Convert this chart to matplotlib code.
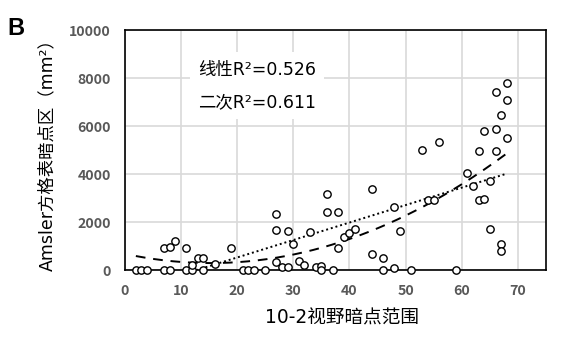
import numpy as np
import matplotlib
matplotlib.use("Agg")
import matplotlib.pyplot as plt

plt.rcParams['font.family'] = ['DejaVu Sans', 'Noto Sans CJK SC']

# Scatter data: 10-2 visual field scotoma extent vs Amsler grid scotoma area (mm²)
field_extent = [2, 3, 4, 7, 8, 7, 8, 9, 11, 11, 12, 12, 13, 14, 14, 16, 19,
                21, 22, 23, 25, 27, 27, 27, 28, 29, 29, 30, 31, 32, 33, 34, 35,
                35, 36, 36, 38, 37, 38, 39, 40, 41, 44, 44, 46, 46, 48, 48, 49,
                51, 53, 56, 54, 55, 59, 61, 62, 63, 64, 63, 64, 65, 65, 66, 66,
                66, 67, 67, 67, 68, 68, 68]
amsler_area = [0, 0, 0, 0, 0, 900, 970, 1220, 900, 0, 0, 200, 490, 490, 0, 250, 940,
               0, 0, 0, 0, 2320, 1690, 320, 110, 110, 1620, 1080, 390, 220, 1570, 110, 180,
               0, 3190, 2400, 2400, 0, 900, 1360, 1530, 1710, 3380, 690, 510, 0, 2610, 70, 1640,
               0, 5000, 5350, 2940, 2920, 0, 4030, 3500, 2940, 2970, 4960, 5810, 1710, 3720, 5860, 4960,
               7420, 6460, 1080, 810, 7810, 7080, 5490]

x_ticks = [0, 10, 20, 30, 40, 50, 60, 70]
y_ticks = [0, 2000, 4000, 6000, 8000, 10000]
r2_linear = "0.526"
r2_quad = "0.611"

x = np.array(field_extent, dtype=float)
y = np.array(amsler_area, dtype=float)

fig = plt.figure(figsize=(5.81, 3.38), dpi=100)
ax = fig.add_axes([0.2145, 0.201, 0.7255, 0.710])

ax.set_xlim(0, 75)
ax.set_ylim(0, 10000)
ax.set_xticks(x_ticks)
ax.set_yticks(y_ticks)
ax.grid(True, color='#d9d9d9', linewidth=1.2)
ax.set_axisbelow(True)

xs = np.linspace(x.min(), x.max(), 200)
lin = np.polyfit(x, y, 1)
quad = np.polyfit(x, y, 2)
ax.plot(xs, np.polyval(lin, xs), color='black', linestyle=(0, (1, 1.5)), linewidth=1.4, zorder=2)
ax.plot(xs, np.polyval(quad, xs), color='black', linestyle=(0, (5, 4)), linewidth=1.4, zorder=2)

ax.scatter(x, y, s=28, facecolors='white', edgecolors='black', linewidths=1.0, zorder=3, clip_on=False)

for sp in ax.spines.values():
    sp.set_color('black')
    sp.set_linewidth(1.2)

ax.tick_params(length=0, pad=10, labelsize=10.2, labelcolor='#595959')
for lab in ax.get_xticklabels() + ax.get_yticklabels():
    lab.set_fontweight('bold')
    lab.set_family(['Noto Sans CJK SC'])

ax.set_xlabel('10-2视野暗点范围', fontsize=13.4)
ax.xaxis.set_label_coords(0.516, -0.16)
ax.set_ylabel('Amsler方格表暗点区（mm²）', fontsize=12.5, labelpad=9)

ax.text(0.174, 0.835, '线性R²=' + r2_linear, transform=ax.transAxes, fontsize=12.5,
        va='center', ha='left', zorder=4,
        bbox=dict(facecolor='white', edgecolor='none', pad=6))
ax.text(0.174, 0.70, '二次R²=' + r2_quad, transform=ax.transAxes, fontsize=12.5,
        va='center', ha='left', zorder=4,
        bbox=dict(facecolor='white', edgecolor='none', pad=6))

fig.text(0.013, 0.895, 'B', fontsize=17, fontweight='bold', family='Liberation Sans')

fig.savefig('out.png', dpi=100)
